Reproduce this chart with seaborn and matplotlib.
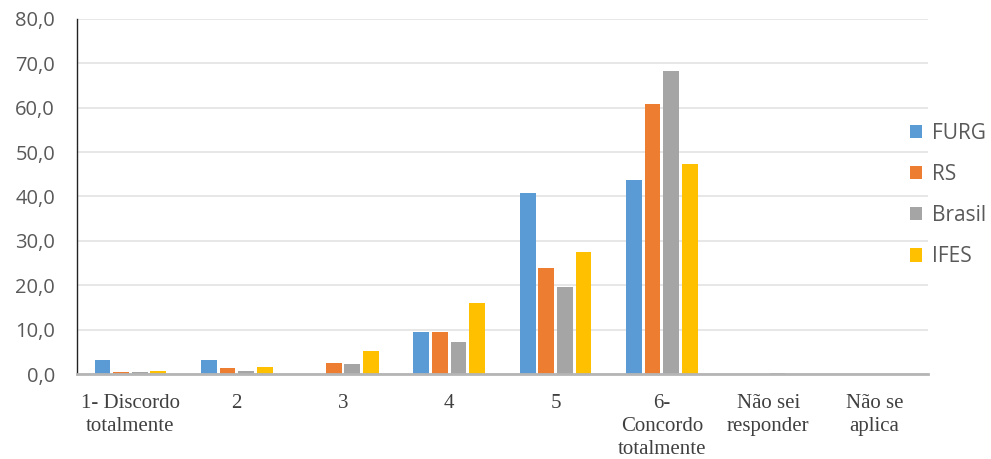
import matplotlib
matplotlib.use("Agg")
import matplotlib.pyplot as plt
import seaborn as sns
import pandas as pd
from matplotlib.ticker import FuncFormatter

categories = ["1- Discordo\ntotalmente", "2", "3", "4", "5",
              "6-\nConcordo\ntotalmente", "Não sei\nresponder", "Não se\naplica"]
series = ["FURG", "RS", "Brasil", "IFES"]
furg = [3.2, 3.1, 0.0, 9.5, 40.7, 43.8, 0.0, 0.0]
rs = [0.4, 1.3, 2.6, 9.5, 24.0, 60.9, 0.0, 0.0]
brasil = [0.4, 0.7, 2.2, 7.3, 19.6, 68.3, 0.3, 0.0]
ifes = [0.8, 1.7, 5.3, 16.0, 27.4, 47.2, 0.0, 0.0]
colors = ["#5B9BD5", "#ED7D31", "#A5A5A5", "#FFC000"]

rows = []
for name, vals in zip(series, [furg, rs, brasil, ifes]):
    for cat, v in zip(categories, vals):
        rows.append({"categoria": cat, "valor": v, "grupo": name})
df = pd.DataFrame(rows)

sns.set_style("white")
fig = plt.figure(figsize=(9.91, 4.59), dpi=100)
ax = fig.add_axes([0.078, 0.185, 0.858, 0.774])

sns.barplot(data=df, x="categoria", y="valor", hue="grupo", order=categories,
            hue_order=series, palette=colors, width=0.70, linewidth=0,
            saturation=1, ax=ax, legend=True)

# narrow each bar slightly to leave a small gap between neighbours
for p in ax.patches:
    w = p.get_width()
    if w > 0:
        nw = w * 0.85
        p.set_x(p.get_x() + (w - nw) / 2)
        p.set_width(nw)

ax.set_ylim(0, 80)
ax.set_xlim(-0.5, len(categories) - 0.5)
ax.set_yticks(range(0, 81, 10))
ax.yaxis.set_major_formatter(FuncFormatter(lambda v, _: f"{v:.1f}".replace(".", ",")))
ax.grid(axis="y", color="#E3E3E3", linewidth=1.2)
ax.set_axisbelow(True)
ax.set_xlabel("")
ax.set_ylabel("")

for s in ["top", "right"]:
    ax.spines[s].set_visible(False)
ax.spines["left"].set_color("#222222")
ax.spines["left"].set_linewidth(1.0)
ax.spines["bottom"].set_color("#B5B5B5")
ax.spines["bottom"].set_linewidth(2.0)

ax.tick_params(axis="y", length=0, pad=16, labelsize=14.5, labelcolor="#595959")
ax.tick_params(axis="x", length=0, pad=14, labelsize=15, labelcolor="#404040")
for lbl in ax.get_yticklabels():
    lbl.set_fontfamily("Open Sans")
for lbl in ax.get_xticklabels():
    lbl.set_fontfamily("Liberation Serif")
    lbl.set_linespacing(1.3)

handles, labels = ax.get_legend_handles_labels()
ax.legend(handles, labels, loc="center left", bbox_to_anchor=(0.957, 0.504),
          frameon=False, handlelength=0.6, handleheight=0.6, handletextpad=0.45,
          labelspacing=0.97, prop={"family": "Open Sans", "size": 15},
          labelcolor="#595959")

fig.savefig("out.png", dpi=100)
